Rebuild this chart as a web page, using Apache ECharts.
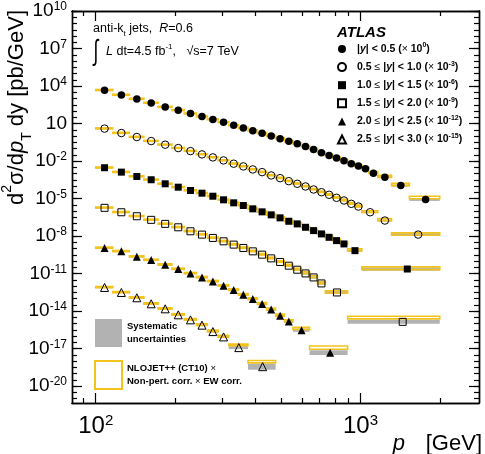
<!DOCTYPE html>
<html>
<head>
<meta charset="utf-8">
<script src="https://cdn.jsdelivr.net/npm/echarts@6/dist/echarts.min.js"></script>
<style>
html, body { margin: 0; padding: 0; background: #fff; }
#chart { width: 485px; height: 454px; }
</style>
</head>
<body>
<div id="chart"></div>
<script>
// pT bin edges [GeV] for each rapidity bin
var edges1 = [100,116,134,152,172,194,216,240,264,290,318,346,376,408,442,478,516,556,598,642,688,736,786,838,894,952,1012,1076,1162,1310,1530,1992];
var edges2 = [100,116,134,152,172,194,216,240,264,290,318,346,376,408,442,478,516,556,598,642,688,736,786,838,894,952,1012,1162,1310,1992];
var edges3 = [100,116,134,152,172,194,216,240,264,290,318,346,376,408,442,478,516,556,598,642,688,736,786,838,894,1012,1992];
var edges4 = [100,116,134,152,172,194,216,240,264,290,318,346,376,408,442,478,516,556,598,642,688,736,894,1992];
var edges5 = [100,116,134,152,172,194,216,240,264,290,318,346,376,408,442,478,516,556,642,894];
var edges6 = [100,116,134,152,172,194,216,240,264,290,318,376,478];

// measured cross sections d2sigma/dpT dy [pb/GeV] (before scaling)
var xs1 = [4620,1940,927,443,212,115,62.5,36.0,21.0,12.6,7.21,4.38,2.71,1.64,1.00,0.619,0.376,0.237,0.144,0.0857,0.0467,0.0283,0.0179,0.0108,0.00612,0.00393,0.00243,0.00108,5.15e-4,1.11e-4,8.4e-6];
var xs2 = [3920,1742,832,397,204,109,62.7,34.0,19.6,11.2,6.12,3.72,2.13,1.30,0.705,0.429,0.246,0.152,0.0925,0.0532,0.0323,0.0200,0.0115,0.00698,0.00379,0.00230,8.04e-4,1.74e-4,1.31e-5];
var xs3 = [2924,1297,586,319,152,81.3,44.2,26.9,15.4,7.94,4.56,2.77,1.51,0.865,0.498,0.286,0.153,0.0944,0.0504,0.0274,0.0149,0.00796,0.00433,0.00235,6.82e-4,2.32e-5];
var xs4 = [1811,803,385,198,94.4,50.4,24.1,13.1,7.11,3.80,2.07,1.12,0.600,0.326,0.165,0.0847,0.0428,0.0204,0.0103,0.00493,0.00163,3.09e-4,1.38e-6];
var xs5 = [1125,600,225,122,51.4,23.2,10.3,4.93,2.36,1.06,0.481,0.202,0.0914,0.0363,0.0134,0.00418,0.00146,2.99e-4,4.76e-6];
var xs6 = [778,309,116,38.4,15.2,5.04,2.00,0.752,0.230,0.0865,0.0120,3.59e-4];

// relative systematic uncertainty
var sys1 = [0.08,0.08,0.07,0.07,0.07,0.07,0.07,0.07,0.07,0.07,0.07,0.07,0.07,0.08,0.08,0.08,0.08,0.09,0.09,0.09,0.10,0.10,0.11,0.11,0.12,0.13,0.14,0.15,0.17,0.20,0.30];
var sys2 = [0.08,0.08,0.08,0.07,0.07,0.07,0.07,0.07,0.07,0.07,0.08,0.08,0.08,0.08,0.09,0.09,0.09,0.10,0.10,0.11,0.11,0.12,0.13,0.14,0.15,0.16,0.18,0.22,0.30];
var sys3 = [0.09,0.09,0.08,0.08,0.08,0.08,0.08,0.08,0.09,0.09,0.09,0.10,0.10,0.10,0.11,0.11,0.12,0.13,0.14,0.15,0.16,0.17,0.19,0.21,0.25,0.35];
var sys4 = [0.10,0.09,0.09,0.09,0.09,0.09,0.10,0.10,0.10,0.11,0.11,0.12,0.13,0.14,0.15,0.16,0.17,0.19,0.21,0.23,0.26,0.30,0.45];
var sys5 = [0.11,0.11,0.11,0.11,0.11,0.12,0.12,0.13,0.14,0.15,0.16,0.17,0.19,0.21,0.23,0.26,0.29,0.35,0.55];
var sys6 = [0.12,0.12,0.12,0.13,0.14,0.15,0.17,0.19,0.22,0.25,0.32,0.75];

// NLO prediction: ratio to data and relative uncertainty
var thy1 = [1.04,1.03,1.03,1.03,1.02,1.02,1.02,1.03,1.03,1.03,1.03,1.03,1.04,1.04,1.04,1.04,1.05,1.05,1.05,1.06,1.06,1.07,1.07,1.08,1.08,1.09,1.10,1.12,1.15,1.20,1.45];
var thy2 = [1.04,1.03,1.03,1.03,1.02,1.02,1.03,1.03,1.03,1.03,1.03,1.04,1.04,1.04,1.05,1.05,1.05,1.06,1.06,1.07,1.07,1.08,1.08,1.09,1.10,1.11,1.13,1.18,1.10];
var thy3 = [1.04,1.04,1.03,1.03,1.03,1.03,1.03,1.03,1.04,1.04,1.04,1.04,1.05,1.05,1.05,1.06,1.06,1.07,1.07,1.08,1.09,1.10,1.11,1.12,1.15,1.15];
var thy4 = [1.05,1.04,1.04,1.04,1.04,1.04,1.04,1.05,1.05,1.05,1.06,1.06,1.07,1.07,1.08,1.09,1.10,1.11,1.12,1.13,1.15,1.12,2.2];
var thy5 = [1.05,1.05,1.05,1.05,1.05,1.05,1.06,1.06,1.07,1.07,1.08,1.09,1.10,1.11,1.12,1.14,1.16,1.40,2.5];
var thy6 = [1.06,1.06,1.06,1.07,1.07,1.08,1.09,1.10,1.12,1.14,1.65,2.5];
var thyU1 = [0.10,0.10,0.10,0.09,0.09,0.09,0.09,0.09,0.09,0.09,0.09,0.10,0.10,0.10,0.10,0.11,0.11,0.11,0.12,0.12,0.13,0.13,0.14,0.14,0.15,0.16,0.17,0.18,0.20,0.22,0.25];
var thyU2 = [0.10,0.10,0.10,0.09,0.09,0.09,0.09,0.09,0.09,0.09,0.10,0.10,0.10,0.10,0.11,0.11,0.11,0.12,0.12,0.13,0.13,0.14,0.14,0.15,0.16,0.17,0.18,0.21,0.25];
var thyU3 = [0.10,0.10,0.10,0.10,0.10,0.10,0.10,0.10,0.10,0.11,0.11,0.11,0.12,0.12,0.12,0.13,0.13,0.14,0.15,0.15,0.16,0.17,0.18,0.19,0.21,0.28];
var thyU4 = [0.10,0.10,0.10,0.10,0.10,0.11,0.11,0.11,0.12,0.12,0.12,0.13,0.13,0.14,0.15,0.15,0.16,0.17,0.18,0.19,0.20,0.22,0.28];
var thyU5 = [0.11,0.11,0.11,0.11,0.12,0.12,0.12,0.13,0.13,0.14,0.15,0.16,0.17,0.18,0.19,0.20,0.21,0.22,0.35];
var thyU6 = [0.12,0.12,0.12,0.13,0.13,0.14,0.15,0.16,0.17,0.18,0.16,0.25];

// rapidity bins and scale factors (powers of ten)
var yLow = [null, 0.5, 1.0, 1.5, 2.0, 2.5];
var yHigh = [0.5, 1.0, 1.5, 2.0, 2.5, 3.0];
var scaleExp = [0, -3, -6, -9, -12, -15];

// axis ticks
var xMajor = [100, 1000];
var xMinor = [90, 200, 300, 400, 500, 600, 700, 800, 900, 2000];
var yLabelExp = [-20, -17, -14, -11, -8, -5, -2, 1, 4, 7, 10];

var F = '"Liberation Sans", Arial, Helvetica, sans-serif';
var YELLOW = '#f2c31c';
var GREY = '#b2b2b2';
var lg = Math.log10;

var groups = [
    {edges: edges1, xs: xs1, sys: sys1, thy: thy1, thyU: thyU1, symbol: 'circle', open: false, size: 7.5},
    {edges: edges2, xs: xs2, sys: sys2, thy: thy2, thyU: thyU2, symbol: 'circle', open: true, size: 7.5},
    {edges: edges3, xs: xs3, sys: sys3, thy: thy3, thyU: thyU3, symbol: 'rect', open: false, size: 7},
    {edges: edges4, xs: xs4, sys: sys4, thy: thy4, thyU: thyU4, symbol: 'rect', open: true, size: 7},
    {edges: edges5, xs: xs5, sys: sys5, thy: thy5, thyU: thyU5, symbol: 'triangle', open: false, size: 8},
    {edges: edges6, xs: xs6, sys: sys6, thy: thy6, thyU: thyU6, symbol: 'triangle', open: true, size: 8}
];

// one box per bin: [log xlo, log xhi, log ylo, log yhi]
function boxItem(params, api) {
    var a = api.coord([api.value(0), api.value(3)]);
    var b = api.coord([api.value(1), api.value(2)]);
    return {
        type: 'rect',
        shape: {x: a[0], y: a[1], width: b[0] - a[0], height: Math.max(b[1] - a[1], 0.8)},
        style: api.style()
    };
}

var names = [];
var markerSeries = [];
var sysData = [];
var thyData = [];
groups.forEach(function (g, k) {
    var sc = Math.pow(10, scaleExp[k]);
    var name = 'y' + k;
    names.push(name);
    var pts = [];
    for (var i = 0; i < g.xs.length; i++) {
        var lo = g.edges[i], hi = g.edges[i + 1];
        var v = g.xs[i] * sc;
        pts.push([lg((lo + hi) / 2), lg(v)]);
        sysData.push([lg(lo), lg(hi), lg(v / (1 + g.sys[i])), lg(v * (1 + g.sys[i]))]);
        var t = v * g.thy[i];
        thyData.push([lg(lo), lg(hi), lg(t / (1 + g.thyU[i])), lg(t * (1 + g.thyU[i]))]);
    }
    markerSeries.push({
        type: 'scatter',
        name: name,
        data: pts,
        symbol: g.symbol,
        symbolSize: g.size,
        z: 5,
        itemStyle: g.open
            ? {color: 'rgba(255,255,255,0)', borderColor: '#000', borderWidth: 1, opacity: 1}
            : {color: '#000', opacity: 1}
    });
});

var series = [
    {
        type: 'custom', name: 'sys', data: sysData, renderItem: boxItem, z: 2,
        itemStyle: {color: GREY}
    },
    {
        type: 'custom', name: 'thy', data: thyData, renderItem: boxItem, z: 3,
        itemStyle: {color: 'rgba(255,255,255,0)', borderColor: YELLOW, borderWidth: 1.6}
    }
].concat(markerSeries);

function legendText(k) {
    var s = '';
    if (yLow[k] !== null) s += '{t|' + yLow[k].toFixed(1) + ' }{o|≤}{t| }';
    s += '{t||}{i|y}{t|| < ' + yHigh[k].toFixed(1) + ' (}{o|×}{t| 10}{s|' + scaleExp[k] + '}{t|)}';
    return s;
}

var xMin = 1.9105, xMax = 3.4475;
var yMin = -21.35, yMax = 10;
var yMinor = [];
for (var e = -21; e <= 10; e += 0.5) yMinor.push(e);

function xAxisDef(pos, ticks, len, withLabel) {
    return {
        type: 'value', position: pos, min: xMin, max: xMax,
        axisLine: {show: true, onZero: false, lineStyle: {color: '#000', width: 1.4}},
        axisTick: {show: true, inside: true, length: len, customValues: ticks.map(lg), lineStyle: {color: '#000', width: 1.2}},
        splitLine: {show: false},
        axisLabel: withLabel ? {
            show: true, margin: 10, customValues: [2, 3],
            formatter: function (v) { return '{b|10}{s|' + Math.round(v) + '}'; },
            rich: {
                b: {fontFamily: F, fontSize: 24, lineHeight: 26, color: '#000'},
                s: {fontFamily: F, fontSize: 15, lineHeight: 8, verticalAlign: 'top', color: '#000'}
            }
        } : {show: false}
    };
}
function yAxisDef(pos, ticks, len, withLabel) {
    return {
        type: 'value', position: pos, min: yMin, max: yMax,
        axisLine: {show: true, onZero: false, lineStyle: {color: '#000', width: 1.4}},
        axisTick: {show: true, inside: true, length: len, customValues: ticks, lineStyle: {color: '#000', width: 1.2}},
        splitLine: {show: false},
        axisLabel: withLabel ? {
            show: true, margin: 5, customValues: yLabelExp,
            formatter: function (v) {
                var n = Math.round(v);
                return n === 1 ? '{b|10}' : '{b|10}{s|' + n + '}';
            },
            rich: {
                b: {fontFamily: F, fontSize: 19, lineHeight: 20, color: '#000'},
                s: {fontFamily: F, fontSize: 12, lineHeight: 12, verticalAlign: 'top', color: '#000'}
            }
        } : {show: false}
    };
}

var chart = echarts.init(document.getElementById('chart'));
chart.setOption({
    animation: false,
    backgroundColor: '#fff',
    grid: {left: 72, right: 6, top: 11, bottom: 51},
    xAxis: [
        xAxisDef('bottom', xMajor, 10, true),
        xAxisDef('bottom', xMinor, 5, false),
        xAxisDef('top', xMajor, 10, false),
        xAxisDef('top', xMinor, 5, false)
    ],
    yAxis: [
        yAxisDef('left', yLabelExp, 10, true),
        yAxisDef('left', yMinor, 5, false),
        yAxisDef('right', yLabelExp, 10, false),
        yAxisDef('right', yMinor, 5, false)
    ],
    legend: [
        {
            data: names, orient: 'vertical', left: 337, top: 42, padding: 0,
            itemWidth: 8, itemHeight: 8, itemGap: 4.1, selectedMode: false,
            formatter: function (n) { return legendText(names.indexOf(n)); },
            textStyle: {
                lineHeight: 14,
                padding: [0, 0, 0, 6],
                rich: {
                    t: {fontFamily: F, fontSize: 10.5, fontWeight: 'bold', lineHeight: 14, color: '#000'},
                    i: {fontFamily: F, fontSize: 10.5, fontWeight: 'bold', fontStyle: 'italic', lineHeight: 14, color: '#000'},
                    o: {fontFamily: F, fontSize: 10.5, lineHeight: 14, color: '#000'},
                    s: {fontFamily: F, fontSize: 7, fontWeight: 'bold', lineHeight: 7, verticalAlign: 'top', color: '#000'}
                }
            }
        },
        {
            data: ['sys', 'thy'], orient: 'vertical', left: 94, top: 319, padding: 0,
            itemWidth: 27, itemHeight: 28, itemGap: 13, icon: 'rect', selectedMode: false,
            formatter: function (n) {
                return n === 'sys'
                    ? '{t|Systematic}\n{t|uncertainties}'
                    : '{t|NLOJET++ (CT10) }{o|×}\n{t|Non-pert. corr. }{o|×}{t| EW corr.}';
            },
            textStyle: {
                rich: {
                    t: {fontFamily: F, fontSize: 9.5, fontWeight: 'bold', lineHeight: 12.5, color: '#000'},
                    o: {fontFamily: F, fontSize: 9.5, lineHeight: 12.5, color: '#000'}
                }
            }
        }
    ],
    graphic: [
        {
            type: 'text', x: 17, y: 10, rotation: Math.PI / 2, silent: true,
            style: {
                text: '{t|d}{p|2}{t|σ/d}{i|p}{b|T}{t| dy [pb/GeV]}',
                align: 'right', verticalAlign: 'middle',
                rich: {
                    t: {fontFamily: F, fontSize: 22, lineHeight: 34, fill: '#000'},
                    i: {fontFamily: F, fontSize: 22, fontStyle: 'italic', lineHeight: 34, fill: '#000'},
                    p: {fontFamily: F, fontSize: 14, lineHeight: 20, verticalAlign: 'top', fill: '#000'},
                    b: {fontFamily: F, fontSize: 14, lineHeight: 10, verticalAlign: 'bottom', fill: '#000'}
                }
            }
        },
        {
            type: 'text', x: 482, y: 444, silent: true,
            style: {
                text: '{i|p}{b|T}{t|  [GeV]}',
                align: 'right', verticalAlign: 'middle',
                rich: {
                    t: {fontFamily: F, fontSize: 22, lineHeight: 56, fill: '#000'},
                    i: {fontFamily: F, fontSize: 22, fontStyle: 'italic', lineHeight: 56, fill: '#000'},
                    b: {fontFamily: F, fontSize: 14, lineHeight: 4, verticalAlign: 'bottom', fill: '#000'}
                }
            }
        },
        {
            type: 'text', x: 337, y: 33, silent: true,
            style: {text: 'ATLAS', font: 'italic bold 15px ' + F, fill: '#000', verticalAlign: 'middle'}
        },
        {
            type: 'text', x: 93, y: 29, silent: true,
            style: {
                text: '{t|anti-k}{b|t}{t| jets,  }{i|R}{t|=0.6}',
                verticalAlign: 'middle',
                rich: {
                    t: {fontFamily: F, fontSize: 12.5, lineHeight: 18, fill: '#000'},
                    i: {fontFamily: F, fontSize: 12.5, fontStyle: 'italic', lineHeight: 18, fill: '#000'},
                    b: {fontFamily: F, fontSize: 8, lineHeight: 8, verticalAlign: 'bottom', fill: '#000'}
                }
            }
        },
        {
            type: 'text', x: 96, y: 52, scaleY: 1.6, silent: true,
            style: {text: '∫', font: '18px ' + F, fill: '#000', align: 'center', verticalAlign: 'middle'}
        },
        {
            type: 'text', x: 106, y: 52, silent: true,
            style: {
                text: '{i|L}{t| dt=4.5 fb}{s|-1}{t|,   √}{t|s}{t|=7 TeV}',
                verticalAlign: 'middle',
                rich: {
                    t: {fontFamily: F, fontSize: 12.5, lineHeight: 18, fill: '#000'},
                    i: {fontFamily: F, fontSize: 12.5, fontStyle: 'italic', lineHeight: 18, fill: '#000'},
                    s: {fontFamily: F, fontSize: 8, lineHeight: 8, verticalAlign: 'top', fill: '#000'}
                }
            }
        }
    ],
    series: series
});
</script>
</body>
</html>
